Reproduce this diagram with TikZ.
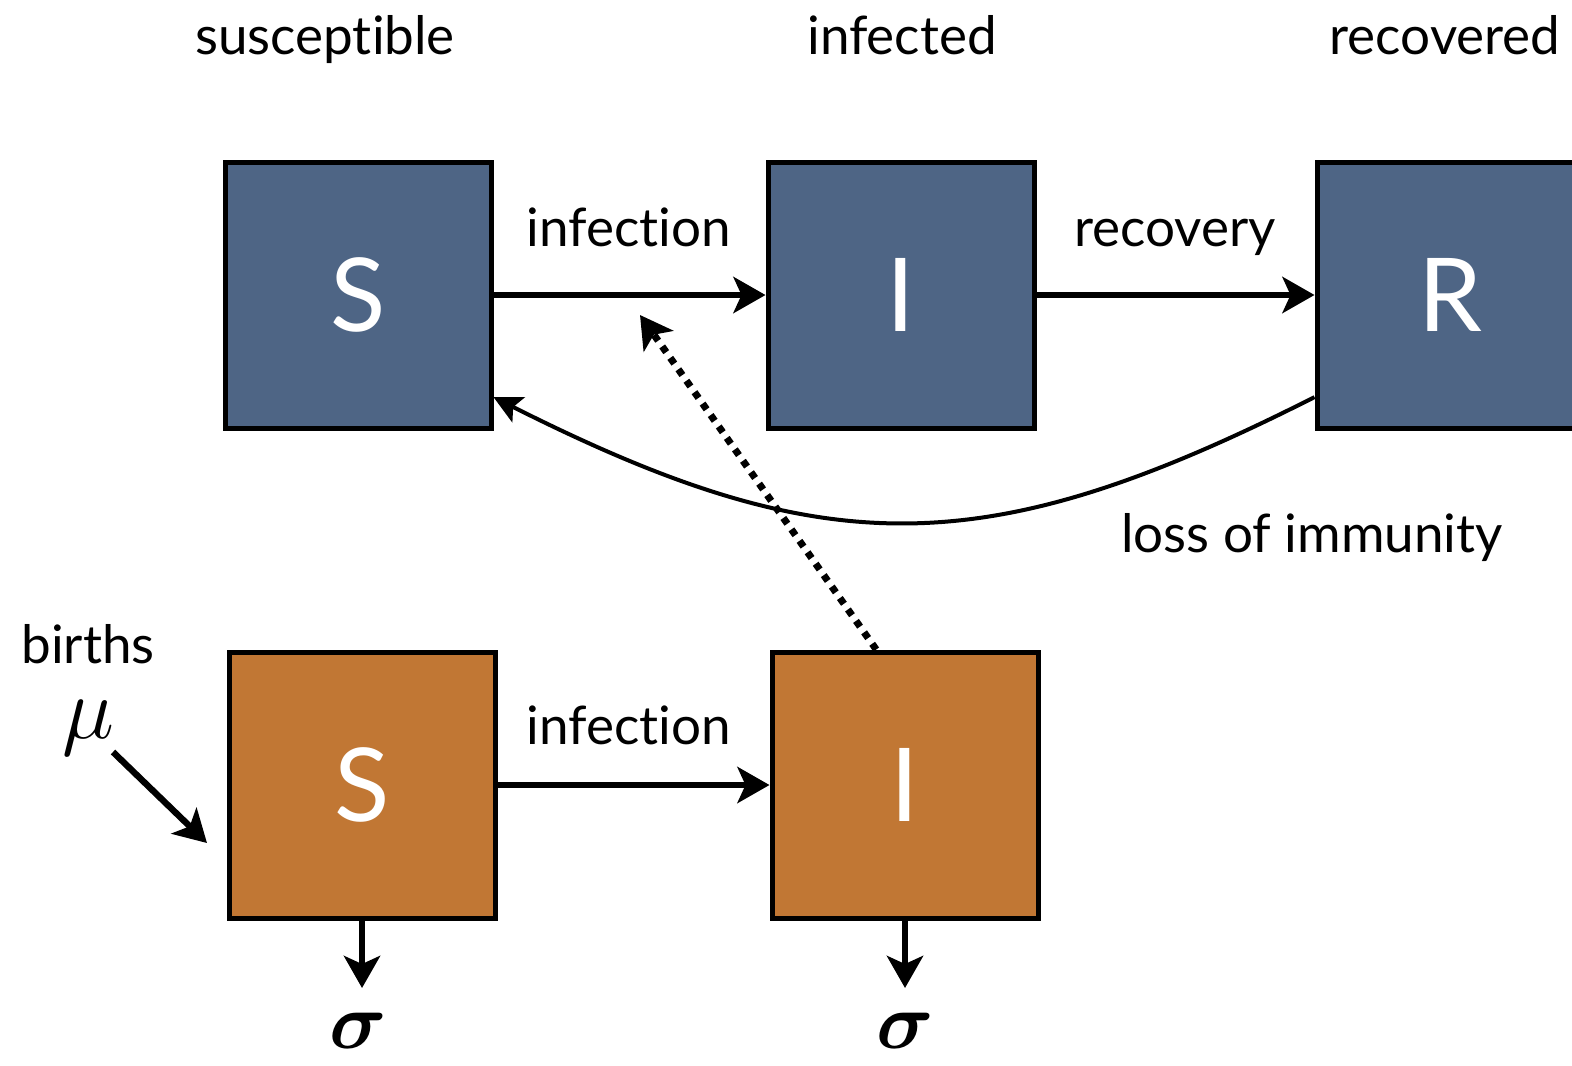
\documentclass[tikz,border=0pt]{standalone}
\usepackage{amsmath}
\usepackage{graphicx}
\usepackage{fontspec}
\setmainfont{Lato}[Ligatures=NoCommon]
\usetikzlibrary{arrows.meta}

\definecolor{slate}{RGB}{78,101,133}
\definecolor{rust}{RGB}{193,119,52}

\tikzset{
  box/.style={draw=black,line width=2.5pt,minimum size=133pt,inner sep=0pt,
    text=white,font=\fontsize{51}{60}\selectfont},
  flow/.style={line width=3.2pt,-{Stealth[length=16pt,width=18pt,inset=4pt]}},
  back/.style={line width=2pt,-{Stealth[length=14pt,width=14pt,inset=3pt]}},
  lbl/.style={anchor=base,font=\fontsize{26.5}{30}\selectfont},
}

\begin{document}
\begin{tikzpicture}[x=0.5pt,y=-0.5pt]
\useasboundingbox (0,0) rectangle (1572,1065);

% boxes
\node[box,fill=slate] (S) at (358,295) {S};
\node[box,fill=slate] (I) at (901,295) {I};
\node[box,fill=slate] (R) at (1450,295) {R};
\node[box,fill=rust] (s) at (362,785) {S};
\node[box,fill=rust] (i) at (905,785) {I};

% headers
\node[lbl] (hs) at (325,55) {susceptible};
\node[lbl] (hi) at (902,55) {infected};
\node[lbl] (hr) at (1445,55) {recovered};

% labels
\node[lbl] (inf1) at (629,246) {infection};
\node[lbl] (rec) at (1175,246) {recovery};
\node[lbl] (loss) at (1312,552) {loss of immunity};
\node[lbl] (inf2) at (629,744) {infection};
\node[lbl] (birth) at (88,663) {births};
\node[inner sep=0pt] (mu) at (88,728) {\scalebox{1.77}{\Huge$\mu$}};
\node[inner sep=0pt] (sg1) at (358,1031) {\scalebox{1.6}{\Huge$\boldsymbol{\sigma}$}};
\node[inner sep=0pt] (sg2) at (905,1031) {\scalebox{1.6}{\Huge$\boldsymbol{\sigma}$}};

\coordinate (hit) at (640,315);
\coordinate (b0) at (113,752);
\coordinate (b1) at (207,843);

% flows
\draw[flow] (S.east) -- (I.west);
\draw[flow] (I.east) -- (R.west);
\draw[flow] (s.east) -- (i.west);
\draw[back] (R.217) .. controls (985,564) and (825,564) .. (S.323);
\draw[flow,dash pattern=on 3.5pt off 3.5pt,line width=3.5pt] (i.102) -- (hit);
\draw[flow] (b0) -- (b1);

% deaths
\draw[flow] (s.south) -- (s.south |- 0,988);
\draw[flow] (i.south) -- (i.south |- 0,988);
\end{tikzpicture}
\end{document}
